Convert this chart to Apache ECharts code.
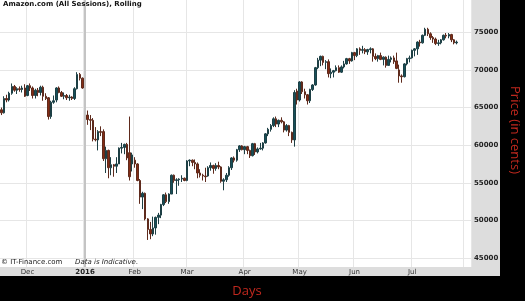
<!DOCTYPE html>
<html><head><meta charset="utf-8">
<script src="https://cdn.jsdelivr.net/npm/echarts@6/dist/echarts.min.js"></script>
<style>html,body{margin:0;padding:0;background:#000;}#c{width:525px;height:301px;}</style>
</head><body><div id="c"></div>
<script>
// Trading-day categories (Nov 16 2015 .. Aug 3 2016)
const categories = [
'2015-11-16','2015-11-17','2015-11-18','2015-11-19','2015-11-20','2015-11-23','2015-11-24','2015-11-25','2015-11-27','2015-11-30',
'2015-12-01','2015-12-02','2015-12-03','2015-12-04','2015-12-07','2015-12-08','2015-12-09','2015-12-10','2015-12-11','2015-12-14','2015-12-15','2015-12-16','2015-12-17','2015-12-18','2015-12-21','2015-12-22','2015-12-23','2015-12-24','2015-12-28','2015-12-29','2015-12-30','2015-12-31',
'2016-01-04','2016-01-05','2016-01-06','2016-01-07','2016-01-08','2016-01-11','2016-01-12','2016-01-13','2016-01-14','2016-01-15','2016-01-19','2016-01-20','2016-01-21','2016-01-22','2016-01-25','2016-01-26','2016-01-27','2016-01-28','2016-01-29',
'2016-02-01','2016-02-02','2016-02-03','2016-02-04','2016-02-05','2016-02-08','2016-02-09','2016-02-10','2016-02-11','2016-02-12','2016-02-16','2016-02-17','2016-02-18','2016-02-19','2016-02-22','2016-02-23','2016-02-24','2016-02-25','2016-02-26','2016-02-29',
'2016-03-01','2016-03-02','2016-03-03','2016-03-04','2016-03-07','2016-03-08','2016-03-09','2016-03-10','2016-03-11','2016-03-14','2016-03-15','2016-03-16','2016-03-17','2016-03-18','2016-03-21','2016-03-22','2016-03-23','2016-03-24','2016-03-28','2016-03-29','2016-03-30','2016-03-31',
'2016-04-01','2016-04-04','2016-04-05','2016-04-06','2016-04-07','2016-04-08','2016-04-11','2016-04-12','2016-04-13','2016-04-14','2016-04-15','2016-04-18','2016-04-19','2016-04-20','2016-04-21','2016-04-22','2016-04-25','2016-04-26','2016-04-27','2016-04-28','2016-04-29',
'2016-05-02','2016-05-03','2016-05-04','2016-05-05','2016-05-06','2016-05-09','2016-05-10','2016-05-11','2016-05-12','2016-05-13','2016-05-16','2016-05-17','2016-05-18','2016-05-19','2016-05-20','2016-05-23','2016-05-24','2016-05-25','2016-05-26','2016-05-27','2016-05-31',
'2016-06-01','2016-06-02','2016-06-03','2016-06-06','2016-06-07','2016-06-08','2016-06-09','2016-06-10','2016-06-13','2016-06-14','2016-06-15','2016-06-16','2016-06-17','2016-06-20','2016-06-21','2016-06-22','2016-06-23','2016-06-24','2016-06-27','2016-06-28','2016-06-29','2016-06-30',
'2016-07-01','2016-07-05','2016-07-06','2016-07-07','2016-07-08','2016-07-11','2016-07-12','2016-07-13','2016-07-14','2016-07-15','2016-07-18','2016-07-19','2016-07-20','2016-07-21','2016-07-22','2016-07-25','2016-07-26','2016-07-27','2016-07-28','2016-07-29',
'2016-08-01','2016-08-02','2016-08-03'];

// Prices in cents
const openP = [64700,64300,66200,66000,66900,67800,67300,67500,67400,67600,
66600,67900,67600,66600,67300,67000,67700,66500,66300,63800,65700,66000,67600,67000,66500,66600,66300,66400,66200,67500,69400,68900,
66400,64000,63400,63300,60800,60700,61800,61800,58200,59300,57000,57400,57200,57500,59600,59700,60100,59000,57500,
58000,57500,55300,53100,53600,50200,48800,48200,49000,50400,50700,52100,53400,52500,53500,56000,55300,55400,55500,55600,
55300,57900,58000,57700,57500,56300,56000,55900,55900,57000,57300,56900,57300,57100,55200,55400,56000,57000,58300,58000,59400,59900,
59400,59800,59300,58600,60200,59100,59500,59600,60300,61500,62100,62600,63500,62800,63300,63100,62000,62600,61700,60700,67200,
66000,68400,67100,66700,65900,67400,68000,70300,71300,71800,71000,71100,69500,69700,69900,70300,69700,70400,70800,71500,71200,
72300,71900,72800,72600,72700,72400,72700,72800,71800,71500,71900,71400,71700,70600,71400,71600,71200,70000,69200,69100,70800,71500,
71600,72600,72800,73700,73600,74600,75400,74800,74300,74100,73500,73600,74000,74600,74500,74700,74000,73600];
const highP = [65000,66500,66700,67100,68200,68000,67700,67800,67900,68100,
68000,68200,67800,67500,67600,67900,67900,66900,66400,65900,66600,67700,67800,67200,67000,66800,66700,66500,67700,69700,69600,69000,
66500,64600,64000,63600,62400,62000,62500,62100,59800,59400,58400,57500,58400,59700,60300,60200,60300,63800,59000,
58400,57600,55500,53800,53700,50300,49800,50500,50500,51000,52200,53500,53700,53600,56100,56100,55600,55600,56000,55700,
58000,58100,58100,58100,57700,56800,56200,57000,57200,57700,57400,57600,57800,57200,55600,56300,57200,58400,58500,59500,60000,60000,
59900,59900,59400,60300,60300,59700,60300,60400,61600,62300,62800,63700,63800,63400,63700,63200,62800,62700,61800,67300,67500,
68500,68500,67500,66800,67500,68100,70400,71600,71900,71900,71300,71400,70200,70000,70600,70600,70600,71200,71600,71600,72400,
72400,72900,73000,73200,72900,72800,73000,72900,72200,72000,72300,71800,71800,71900,71800,71900,72300,70700,69400,70900,71600,71900,
72700,72900,73800,74000,74700,75600,75600,75000,74500,74300,74000,74100,74700,74900,74900,74800,74100,73900];
const lowP = [64000,64200,65700,65800,66700,67100,66800,67100,67000,66400,
66500,67200,66200,66200,66500,66600,65900,66000,63400,63500,65500,65700,66900,66400,66100,66000,65900,66000,66000,67400,68600,67500,
62700,62700,62000,60500,60500,59300,61200,57900,56300,55600,56000,55800,56300,57500,58900,58800,58000,55300,56500,
57000,55200,52200,51500,50000,47400,47500,47900,48100,49500,50300,51900,52300,52200,53500,55000,53500,54600,55100,55200,
55200,57200,57200,56800,55600,55700,55300,55100,55800,56600,56200,56600,56800,55000,54000,55100,55800,56700,57700,57800,59100,59300,
58800,58800,58300,58500,58700,58900,59400,59300,60200,61200,61800,62400,62400,62400,62900,61700,61800,61200,60300,59800,65400,
65800,66800,66200,65400,65600,67200,67900,70100,70500,70600,70100,69000,68900,69000,69800,69600,69600,70200,70700,70800,71100,
71300,71700,72000,72200,72100,72000,72200,71100,71300,71100,71300,70600,70300,70600,71000,70800,70100,68300,68300,69000,70600,71000,
71500,71800,72000,73100,73500,74500,74500,74000,73600,73300,73200,73400,73900,74200,74200,73700,73400,73400];
const closeP = [64300,66200,66000,66900,67800,67300,67500,67400,67600,66500,
67900,67600,66600,67300,67000,67700,66500,66200,63800,65700,65900,67600,67000,66500,66600,66300,66400,66200,67500,69400,68900,67600,
63700,63400,63300,60800,60700,61800,61700,58200,59300,57000,57400,57200,57500,59600,59700,60100,58300,55800,58700,
57500,55300,53100,53600,50200,48800,48200,49000,50400,50700,52100,53400,52500,53500,56000,55300,55400,55500,55600,55300,
57900,58000,57700,57500,56300,56000,55900,55800,57000,57300,56900,57300,57100,55200,55400,56000,57000,58300,58000,59400,59900,59400,
59800,59300,58600,60200,59100,59500,59600,60300,61500,62100,62600,63500,62800,63300,63100,62000,62600,61700,60700,67000,66000,
68400,67100,66700,65900,67400,68000,70300,71300,71800,71000,71100,69500,69700,69900,70300,69700,70400,70800,71500,71200,72300,
71900,72800,72600,72700,72400,72700,72800,71800,71500,71900,71400,71700,70600,71400,71600,71100,70200,69200,69100,70800,71500,71600,
72600,72800,73700,73600,74600,75400,74800,74300,74100,73500,73600,74000,74600,74500,74700,74000,73600,73700];

const priceTicks = [45000,50000,55000,60000,65000,70000,75000];
const monthNames = ['Jan','Feb','Mar','Apr','May','Jun','Jul','Aug','Sep','Oct','Nov','Dec'];
const yearMarker = '2016-01-04';

const ohlc = openP.map((o,i)=>[o, closeP[i], lowP[i], highP[i]]);
function isMonthStart(i){ return i>0 && categories[i].slice(5,7)!==categories[i-1].slice(5,7); }

const chart = echarts.init(document.getElementById('c'), null, {renderer:'canvas'});
chart.setOption({
  backgroundColor:'#000',
  animation:false,
  title:{text:'Amazon.com (All Sessions), Rolling', left:3, top:1, padding:0,
    textStyle:{fontSize:7, fontWeight:'bold', color:'#111', fontFamily:'DejaVu Sans'}},
  graphic:[
    {type:'rect', z:-100, shape:{x:0,y:0,width:500,height:276}, style:{fill:'#dddddd'}},
    {type:'text', left:1, top:259, z:50, style:{text:'© IT-Finance.com', fontSize:7, fontFamily:'DejaVu Sans', fill:'#222'}},
    {type:'text', left:75, top:259, z:50, style:{text:'Data is Indicative.', fontSize:7, fontStyle:'italic', fontFamily:'DejaVu Sans', fill:'#222'}},
    {type:'text', x:515, y:130, rotation:-Math.PI/2, z:50, style:{text:'Price (in cents)', fontSize:13, fontFamily:'Open Sans', fill:'#c0281e', align:'center', verticalAlign:'middle'}},
    {type:'text', x:247, y:291, z:50, style:{text:'Days', fontSize:13, fontFamily:'Open Sans', fill:'#c0281e', align:'center', verticalAlign:'middle'}}
  ],
  grid:[
    {left:0, top:32.3, width:471, height:225.7},
    {left:0, top:0, width:471, height:267, show:true, backgroundColor:'#fff', borderWidth:0, z:-50}
  ],
  xAxis:[
    {type:'category', gridIndex:0, data:categories, boundaryGap:true, show:false},
    {type:'category', gridIndex:1, data:categories, boundaryGap:true,
      axisLine:{show:false}, axisTick:{show:false},
      splitLine:{show:true, interval:(i)=>isMonthStart(i), lineStyle:{color:'#e6e6e6', width:1}},
      axisLabel:{interval:(i)=>isMonthStart(i), margin:2, fontSize:7, fontFamily:'DejaVu Sans', color:'#333',
        formatter:(v)=>{const m=+v.slice(5,7); if(m===1) return '{b|'+v.slice(0,4)+'}'; if(m===8) return ''; return monthNames[m-1];},
        rich:{b:{fontWeight:'bold', fontSize:7, fontFamily:'DejaVu Sans', color:'#222'}}}}
  ],
  yAxis:[
    {type:'value', gridIndex:0, position:'right', min:priceTicks[0], max:priceTicks[priceTicks.length-1], interval:5000,
      axisLine:{show:false}, axisTick:{show:false},
      splitLine:{lineStyle:{color:'#e6e6e6', width:1}},
      axisLabel:{margin:3, fontSize:7, fontWeight:'bold', fontFamily:'DejaVu Sans', color:'#222', formatter:(v)=>String(v)}},
    {type:'value', gridIndex:1, min:0, max:1, show:false}
  ],
  series:[
    {type:'line', xAxisIndex:1, yAxisIndex:1, data:[], silent:true,
      markLine:{silent:true, symbol:'none', label:{show:false}, lineStyle:{color:'#c4c4c4', width:2, type:'solid'},
        data:[{xAxis:yearMarker}]}},
    {type:'candlestick', xAxisIndex:0, yAxisIndex:0, data:ohlc, clip:false, barWidth:2,
      itemStyle:{color:'#17505a', color0:'#842c14', borderColor:'#1d3f44', borderColor0:'#5e2a1c', borderWidth:1}}
  ]
});
</script></body></html>
